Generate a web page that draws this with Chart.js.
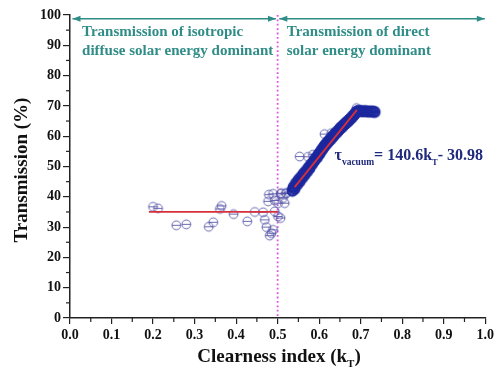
<!DOCTYPE html>
<html><head><meta charset="utf-8">
<script src="https://cdn.jsdelivr.net/npm/chart.js@4.4.1/dist/chart.umd.min.js"></script>
<style>html,body{margin:0;padding:0;background:#fff}#wrap{width:497px;height:373px}</style>
</head><body><div id="wrap"><canvas id="c" width="497" height="373"></canvas></div>
<script>
// ---- data ----
const ktScatter  = [0.200,0.212,0.256,0.280,0.334,0.345,0.361,0.365,0.394,0.427,0.445,0.465,0.469,0.473,0.477,0.479,0.481,0.485,0.489,0.489,0.493,0.493,0.501,0.501,0.507,0.507,0.513,0.517,0.520,0.509,0.521,0.537,0.553,0.573,0.585,0.613,0.629,0.690];
const tauScatter = [36.7,36.2,30.6,30.9,30.1,31.6,36.0,37.0,34.3,31.9,35.0,34.9,32.4,30.0,38.5,40.7,27.2,28.0,29.1,41.0,38.8,35.2,37.9,33.5,41.0,33.0,39.6,37.9,41.2,41.2,41.2,41.7,53.3,53.2,53.9,60.7,61.0,69.3];

const ktBand  = [0.535,0.538,0.541,0.544,0.547,0.550,0.553,0.556,0.559,0.562,0.565,0.568,0.571,0.574,0.577,0.580,0.583,0.586,0.589,0.592,0.595,0.598,0.601,0.604,0.607,0.610,0.613,0.616,0.619,0.622,0.625,0.628,0.631,0.634,0.637,0.640,0.643,0.646,0.649,0.652,0.655,0.658,0.661,0.664,0.667,0.670,0.673,0.676,0.679,0.682,0.685,0.688,0.691,0.695,0.700,0.705,0.710,0.715,0.720,0.725,0.730,0.734];
const tauBand = [42.0,43.2,42.6,44.5,44.0,45.6,45.0,46.5,46.2,47.6,47.2,48.5,48.3,49.6,49.4,50.6,50.8,51.6,52.0,52.8,53.0,54.0,54.2,55.0,55.6,56.2,56.8,57.2,57.8,58.2,58.8,59.0,59.7,60.0,60.6,61.0,61.4,61.9,62.3,62.8,63.0,63.6,63.9,64.3,64.7,65.0,65.5,65.8,66.3,66.8,67.2,67.8,68.2,68.4,68.3,68.2,68.3,68.2,68.1,68.2,68.1,68.0];

const ktFlat  = [0.19, 0.50];
const tauFlat = [35.0, 35.0];
const ktFit   = [0.541, 0.691];
const tauFit  = [43.2, 68.7];

const xTicks = [0.0,0.1,0.2,0.3,0.4,0.5,0.6,0.7,0.8,0.9,1.0];
const yTicks = [0,10,20,30,40,50,60,70,80,90,100];
const divider = 0.5;

const textLeft  = ["Transmission of isotropic","diffuse solar energy dominant"];
const textRight = ["Transmission of direct","solar energy dominant"];

// ---- helpers ----
const pts = (xs, ys) => xs.map((x,i)=>({x:x, y:ys[i]}));
function marker(color, lw, r){
  const s = Math.ceil(r*2+lw*2+2);
  const c = document.createElement('canvas'); c.width=s; c.height=s;
  const g = c.getContext('2d');
  g.strokeStyle=color; g.lineWidth=lw;
  g.beginPath(); g.arc(s/2,s/2,r,0,Math.PI*2); g.stroke();
  g.beginPath(); g.moveTo(s/2-r,s/2); g.lineTo(s/2+r,s/2); g.stroke();
  return c;
}
const mLight = marker('rgba(80,80,165,0.85)',1,4.4);
const mDark  = marker('rgba(28,40,158,0.95)',2.6,4.6);

const FONT = '"Liberation Serif", "Times New Roman", serif';
const teal = '#2f8c86';
const navy = '#1f2a7c';

const overlay = {
  id:'overlay',
  beforeDatasetsDraw(chart){
    const {ctx, chartArea:a, scales:{x,y}} = chart;
    const px = x.getPixelForValue(divider);
    ctx.save();
    ctx.strokeStyle='#e050e0'; ctx.lineWidth=1.8; ctx.setLineDash([1.8,2.6]);
    ctx.beginPath(); ctx.moveTo(px,a.top); ctx.lineTo(px,a.bottom); ctx.stroke();
    ctx.restore();
  },
  afterDraw(chart){
    const {ctx, chartArea:a, scales:{x,y}} = chart;
    ctx.save();
    // minor ticks
    ctx.strokeStyle='#222'; ctx.lineWidth=1.2;
    for(let v=5; v<100; v+=10){ const py=y.getPixelForValue(v); ctx.beginPath(); ctx.moveTo(a.left-4,py); ctx.lineTo(a.left,py); ctx.stroke(); }
    for(let v=0.05; v<1; v+=0.1){ const px=x.getPixelForValue(v); ctx.beginPath(); ctx.moveTo(px,a.bottom); ctx.lineTo(px,a.bottom+4); ctx.stroke(); }
    // arrows
    const ay = y.getPixelForValue(98.8);
    function arrow(x1,x2){
      ctx.strokeStyle=teal; ctx.fillStyle=teal; ctx.lineWidth=1.5;
      ctx.beginPath(); ctx.moveTo(x1,ay); ctx.lineTo(x2,ay); ctx.stroke();
      [[x1,1],[x2,-1]].forEach(([xx,d])=>{
        ctx.beginPath(); ctx.moveTo(xx,ay); ctx.lineTo(xx+d*8,ay-3); ctx.lineTo(xx+d*8,ay+3); ctx.closePath(); ctx.fill();
      });
    }
    arrow(x.getPixelForValue(0.006), x.getPixelForValue(0.496));
    arrow(x.getPixelForValue(0.504), x.getPixelForValue(0.999));
    // annotation text
    ctx.fillStyle=teal; ctx.font='bold 15px '+FONT; ctx.textBaseline='middle'; ctx.textAlign='left';
    const lx=x.getPixelForValue(0.029), rx=x.getPixelForValue(0.522);
    const l1=y.getPixelForValue(94.3), l2=y.getPixelForValue(88.2);
    ctx.fillText(textLeft[0],lx,l1); ctx.fillText(textLeft[1],lx,l2);
    ctx.fillText(textRight[0],rx,l1); ctx.fillText(textRight[1],rx,l2);
    // equation
    let ex = x.getPixelForValue(0.637), ey = y.getPixelForValue(52.0);
    ctx.fillStyle=navy; ctx.textBaseline='alphabetic';
    function seg(t, f, dy){ ctx.font=f; ctx.fillText(t, ex, ey+dy); ex += ctx.measureText(t).width; }
    seg('\u03C4','bold 16px '+FONT,0);
    seg('vacuum','bold 9.5px '+FONT,5);
    seg('= 140.6k','bold 16px '+FONT,0);
    seg('T','bold 8.5px '+FONT,5);
    seg('- 30.98','bold 16px '+FONT,0);
    // x title
    ctx.fillStyle='#111';
    const parts=[['Clearness index (k','bold 19px '+FONT,0],['T','bold 11px '+FONT,5],[')','bold 19px '+FONT,0]];
    let w=0; parts.forEach(p=>{ctx.font=p[1]; w+=ctx.measureText(p[0]).width;});
    ex = 279 - w/2; ey = 362;
    parts.forEach(p=>seg(p[0],p[1],p[2]));
    // y title
    ctx.translate(21, 170); ctx.rotate(-Math.PI/2);
    ctx.font='bold 19px '+FONT; ctx.textAlign='center'; ctx.textBaseline='alphabetic';
    ctx.fillText('Transmission (%)',0,6);
    ctx.restore();
  }
};

new Chart(document.getElementById('c'), {
  type:'scatter',
  data:{ datasets:[
    {type:'line', data:pts(ktFit,tauFit), borderColor:'#d8303a', borderWidth:1.8, pointRadius:0, showLine:true, fill:false},
    {type:'line', data:pts(ktFlat,tauFlat), borderColor:'#d8303a', borderWidth:1.8, pointRadius:0, showLine:true, fill:false},
    {data:pts(ktBand,tauBand), pointStyle:mDark, pointRadius:5},
    {data:pts(ktScatter,tauScatter), pointStyle:mLight, pointRadius:5}
  ]},
  options:{
    responsive:false, animation:false,
    layout:{padding:{top:15,right:11,left:0,bottom:0}},
    plugins:{legend:{display:false}, tooltip:{enabled:false}},
    scales:{
      x:{type:'linear', min:0, max:1,
        afterBuildTicks(s){ s.ticks = xTicks.map(v=>({value:v})); },
        afterFit(s){ s.height=55; },
        grid:{drawOnChartArea:false, tickLength:6, color:'#222', lineWidth:1.2},
        border:{color:'#222', width:1.5},
        ticks:{color:'#111', font:{family:FONT, size:14, weight:'bold'}, padding:3, maxRotation:0, autoSkip:false,
          callback:v=>Number(v).toFixed(1)}
      },
      y:{type:'linear', min:0, max:100,
        afterBuildTicks(s){ s.ticks = yTicks.map(v=>({value:v})); },
        afterFit(s){ s.width=70; },
        grid:{drawOnChartArea:false, tickLength:7, color:'#222', lineWidth:1.2},
        border:{color:'#222', width:1.5},
        ticks:{color:'#111', font:{family:FONT, size:14, weight:'bold'}, padding:2, autoSkip:false}
      }
    }
  },
  plugins:[overlay]
});
</script>
</body></html>
